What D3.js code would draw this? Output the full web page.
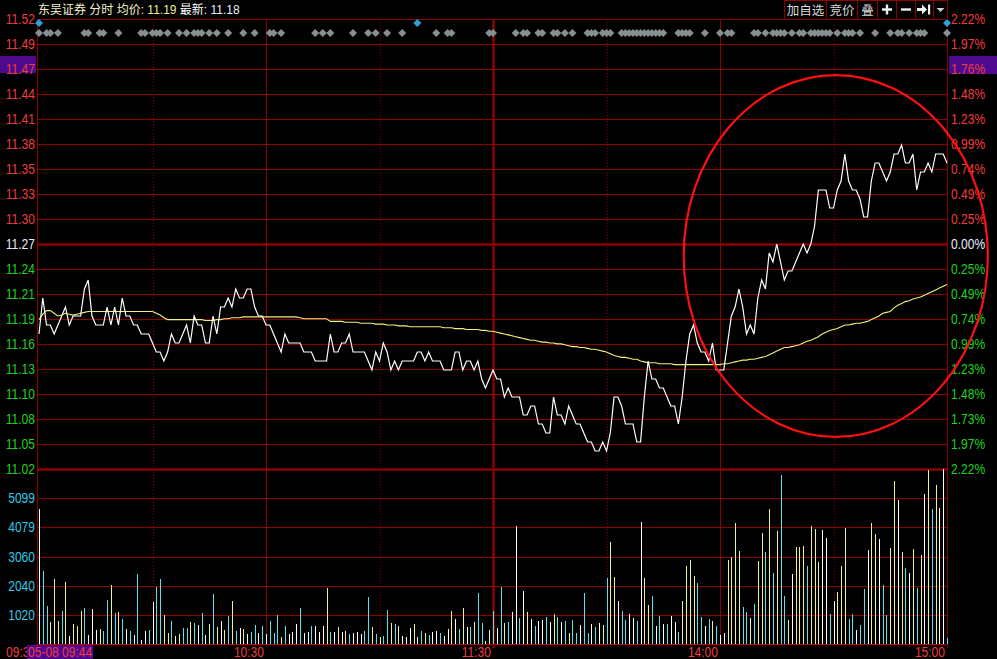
<!DOCTYPE html>
<html><head><meta charset="utf-8">
<script src="https://cdn.jsdelivr.net/npm/d3@7"></script>
<style>html,body{margin:0;padding:0;background:#000;overflow:hidden}</style>
</head><body><svg id="c" width="997" height="659"></svg>
<script>
// ---------------- DATA ----------------
const stockName = "东吴证券";
const headerAvg = "11.19";
const headerLast = "11.18";
const cursorLabel = "05-08 09:44";

const prices = [
11.17,11.21,11.18,11.18,11.17,11.18,11.19,11.20,11.18,11.19,
11.19,11.19,11.22,11.23,11.19,11.18,11.18,11.18,11.20,11.18,
11.20,11.18,11.21,11.19,11.19,11.18,11.18,11.17,11.17,11.17,
11.16,11.15,11.15,11.14,11.15,11.17,11.16,11.16,11.17,11.18,
11.16,11.19,11.18,11.18,11.16,11.16,11.19,11.17,11.20,11.20,
11.21,11.20,11.22,11.21,11.21,11.22,11.22,11.20,11.19,11.19,
11.18,11.18,11.17,11.16,11.15,11.17,11.16,11.16,11.16,11.16,
11.15,11.15,11.15,11.14,11.14,11.14,11.14,11.17,11.15,11.15,
11.16,11.16,11.17,11.15,11.15,11.15,11.15,11.14,11.13,11.15,
11.14,11.16,11.15,11.13,11.14,11.13,11.14,11.14,11.14,11.14,
11.15,11.15,11.14,11.15,11.14,11.14,11.14,11.13,11.13,11.13,
11.15,11.15,11.13,11.14,11.14,11.13,11.14,11.12,11.11,11.12,
11.13,11.12,11.12,11.10,11.11,11.10,11.10,11.10,11.08,11.08,
11.09,11.09,11.07,11.07,11.06,11.06,11.10,11.08,11.08,11.07,
11.09,11.08,11.07,11.07,11.06,11.05,11.05,11.04,11.04,11.05,
11.04,11.06,11.10,11.10,11.09,11.07,11.07,11.07,11.05,11.05,
11.10,11.14,11.12,11.12,11.11,11.11,11.10,11.09,11.09,11.07,
11.10,11.14,11.17,11.18,11.16,11.15,11.15,11.14,11.16,11.13,
11.13,11.13,11.16,11.19,11.20,11.22,11.20,11.17,11.18,11.17,
11.21,11.23,11.22,11.26,11.25,11.27,11.25,11.23,11.24,11.24,
11.25,11.26,11.27,11.26,11.27,11.29,11.33,11.33,11.33,11.31,
11.31,11.33,11.34,11.37,11.34,11.33,11.33,11.32,11.30,11.30,
11.34,11.36,11.36,11.35,11.34,11.35,11.37,11.37,11.38,11.36,
11.36,11.37,11.33,11.35,11.35,11.36,11.35,11.37,11.37,11.37,11.36];

const avgPrices = [
11.186,11.192,11.196,11.196,11.193,11.190,11.191,11.193,11.192,11.191,
11.192,11.193,11.194,11.195,11.195,11.195,11.195,11.195,11.195,11.195,
11.195,11.195,11.195,11.195,11.195,11.195,11.195,11.195,11.195,11.195,
11.195,11.193,11.191,11.188,11.186,11.186,11.186,11.186,11.186,11.186,
11.186,11.186,11.186,11.186,11.185,11.185,11.185,11.186,11.186,11.187,
11.187,11.188,11.188,11.188,11.189,11.189,11.189,11.189,11.189,11.189,
11.189,11.189,11.189,11.189,11.189,11.189,11.189,11.189,11.189,11.188,
11.187,11.187,11.187,11.187,11.187,11.187,11.187,11.184,11.184,11.184,
11.184,11.183,11.183,11.183,11.183,11.182,11.182,11.182,11.182,11.181,
11.181,11.181,11.180,11.180,11.180,11.179,11.179,11.179,11.178,11.178,
11.178,11.178,11.178,11.178,11.178,11.178,11.178,11.177,11.177,11.177,
11.176,11.176,11.176,11.175,11.175,11.175,11.175,11.174,11.174,11.173,
11.173,11.172,11.171,11.170,11.169,11.168,11.167,11.166,11.165,11.164,
11.163,11.163,11.162,11.161,11.161,11.160,11.160,11.159,11.159,11.158,
11.157,11.156,11.156,11.155,11.155,11.154,11.153,11.153,11.152,11.151,
11.150,11.148,11.146,11.145,11.144,11.144,11.143,11.142,11.142,11.140,
11.139,11.138,11.138,11.138,11.137,11.137,11.137,11.137,11.136,11.136,
11.136,11.136,11.136,11.136,11.136,11.136,11.136,11.136,11.136,11.136,
11.136,11.137,11.137,11.138,11.139,11.140,11.141,11.141,11.142,11.142,
11.143,11.144,11.145,11.147,11.149,11.151,11.153,11.155,11.155,11.156,
11.157,11.158,11.160,11.162,11.163,11.165,11.167,11.170,11.172,11.174,
11.175,11.176,11.178,11.180,11.180,11.181,11.182,11.182,11.183,11.184,
11.186,11.188,11.190,11.193,11.194,11.195,11.199,11.202,11.204,11.206,
11.207,11.209,11.210,11.211,11.213,11.215,11.217,11.219,11.221,11.223,11.225];

const volumes = [
4711,2567,1336,773,2285,809,1160,2180,281,703,633,1160,1266,316,1230,492,527,457,1547,2074,
1090,1125,879,527,457,316,2461,141,457,492,1477,2004,2285,1020,387,809,281,352,563,563,
773,738,668,1090,316,703,1758,598,809,492,984,1512,457,563,527,352,422,668,387,633,
352,809,387,1020,246,633,352,422,703,1266,387,422,633,633,422,633,1969,
422,422,598,422,457,352,387,422,352,457,1653,598,352,246,281,1195,738,703,633,281,
246,563,703,246,457,387,316,422,457,387,281,527,1160,879,527,1266,598,598,773,1793,738,105,492,
1160,563,2004,738,773,1125,4114,914,1863,1125,879,633,809,844,949,773,1055,949,773,809,
387,844,387,668,1793,387,703,598,738,668,2321,3551,2356,1512,1160,844,1055,914,809,4254,
2321,1371,1688,633,
984,703,703,984,773,422,1512,2742,2953,2391,2145,949,633,879,809,633,316,387,2953,3059,
4219,3235,1301,1125,914,1406,2918,3868,3200,4711,2496,3938,5907,1688,844,2461,3375,3375,3411,2742,
4114,4008,2883,3973,3692,1055,1512,1828,2742,4043,879,1055,492,668,1934,3270,4219,3832,3657,2074,
1020,3340,5696,5028,3200,2672,2496,3305,1969,3129,5239,6083,4711,5555,4746,6118,211];

// bar tone per minute: W = white, C = cyan, Y = yellow
const volTone = (
 "WCCYYYCYWY"+"YYCWWWYCCY"+"CYCWCWCWWC"+"WCCYYCWYCC"+"YCWCWYCYWY"+"CYCWYWCCWC"+"WCCCYCWWWC"+"WWCWWWY"+
 "CWYWYCWWWC"+"CYCYCCYCYW"+"WWYWCYCWWC"+"WWYWCYWCYC"+"CWY"+
 "CWCYCWWCWY"+"WCWWCWYCWC"+"YCCWCCWCWY"+"CYYWCCWWCW"+"YYCW"+
 "CWCWWCYYYY"+"CCWCYCWWYY"+"YYCCYCYYCY"+"CYCCYWYYYC"+"YYYWWCWYYY"+"CCWCCWYYWC"+"CYYWYCWYCY"+"WYCYWWC"
).split("");

const priceTicks = [11.5200,11.4922,11.4644,11.4367,11.4089,11.3811,11.3533,11.3256,11.2978,11.2700,
  11.2422,11.2144,11.1867,11.1589,11.1311,11.1033,11.0756,11.0478,11.0200];
const priceLabels = ["11.52","11.49","11.47","11.44","11.41","11.38","11.35","11.33","11.30","11.27",
  "11.24","11.21","11.19","11.16","11.13","11.10","11.08","11.05","11.02"];
const pctLabels = ["2.22%","1.97%","1.76%","1.48%","1.23%","0.99%","0.74%","0.49%","0.25%","0.00%",
  "0.25%","0.49%","0.74%","0.99%","1.23%","1.48%","1.73%","1.97%","2.22%"];
const prevClose = 11.27;
const cursorRow = 2;

const volTicks = [1020,2040,3060,4079,5099];
const volLabels = ["1020","2040","3060","4079","5099"];

const gridMinutes = [30,60,90,120,150,180,210];
const timeTickMinutes = [0,60,120,180,240];
const timeLabels = ["09:30","10:30","11:30","14:00","15:00"];

const grayMarks = [0,2,3,5,12,13,16,17,21,27,28,30,31,32,34,37,39,41,42,43,45,47,50,54,57,61,62,64,73,75,77,
 83,87,89,92,96,105,108,109,119,120,126,128,129,132,133,136,137,139,141,145,146,147,149,150,151,
 154,155,156,157,158,159,160,161,162,163,164,165,
 169,170,171,172,176,180,182,183,189,190,192,194,195,196,197,199,201,202,204,205,206,207,208,209,
 211,213,214,215,217,221,225,227,228,230,232,233,234,240];
const blueMarks = [0,100,240];

const buttons = ["加自选","竞价","叠"];
// annotation ellipse in data units: centre minute, centre price, half-width (minutes), half-height (price)
const circleNote = [210.6, 11.2567, 40.2, 0.201];

// ---------------- DRAW ----------------
const W = 997, H = 659;
const L = 37, R = 948, T = 19, PB = 469, VB = 644;
const GRID = "#8c0000";
const RED = "#f03c3c", GREEN = "#1ed21e", CYAN = "#33c8e6", WHITE = "#e8ecff";
const toneColor = {W:"#ffffff", C:"#50e6f0", Y:"#f2f28c"};
const NUMFONT = "'Liberation Sans', Arial, sans-serif";
const CJKFONT = "'Liberation Sans','Noto Sans CJK SC', sans-serif";

const x = d3.scaleLinear().domain([0, 240]).range([39, 947]);
const y = d3.scaleLinear().domain([11.02, 11.52]).range([PB, T]);
const yv = d3.scaleLinear().domain([0, 6120]).range([VB, PB]);

const svg = d3.select("#c");
svg.append("rect").attr("width", W).attr("height", H).attr("fill", "#000");

const crisp = v => Math.round(v) + 0.5;

// horizontal price grid
svg.append("g").selectAll("line").data(priceTicks).join("line")
  .attr("x1", L).attr("x2", R)
  .attr("y1", d => crisp(y(d))).attr("y2", d => crisp(y(d)))
  .attr("stroke", GRID)
  .attr("stroke-width", (d, i) => (i === 9 || i === 18) ? 2.5 : 1);

// volume grid
svg.append("g").selectAll("line").data(volTicks).join("line")
  .attr("x1", L).attr("x2", R)
  .attr("y1", d => crisp(yv(d))).attr("y2", d => crisp(yv(d)))
  .attr("stroke", GRID).attr("stroke-width", 1);
svg.append("line").attr("x1", L).attr("x2", R).attr("y1", VB + 0.5).attr("y2", VB + 0.5)
  .attr("stroke", "#c80000").attr("stroke-width", 1.2);

// vertical time grid
svg.append("g").selectAll("line").data(gridMinutes).join("line")
  .attr("x1", d => crisp(x(d))).attr("x2", d => crisp(x(d)))
  .attr("y1", T).attr("y2", d => d === 120 ? 648 : VB)
  .attr("stroke", GRID)
  .attr("stroke-width", d => d === 120 ? 2.5 : 1)
  .attr("stroke-dasharray", d => (d === 120 || d % 60 === 0) ? null : "1,2");

// frame
svg.append("line").attr("x1", L + 0.5).attr("x2", L + 0.5).attr("y1", T).attr("y2", 646).attr("stroke", GRID);
svg.append("line").attr("x1", R - 0.5).attr("x2", R - 0.5).attr("y1", 0).attr("y2", 648).attr("stroke", GRID);
svg.append("line").attr("x1", L).attr("x2", R).attr("y1", T + 0.5).attr("y2", T + 0.5).attr("stroke", GRID);

// volume bars
svg.append("g").selectAll("line").data(volumes).join("line")
  .attr("x1", (d, i) => crisp(x(i))).attr("x2", (d, i) => crisp(x(i)))
  .attr("y1", d => yv(d)).attr("y2", VB)
  .attr("stroke", (d, i) => toneColor[volTone[i]] || "#fff")
  .attr("stroke-width", 1).attr("shape-rendering", "crispEdges");

// average line
svg.append("path").datum(avgPrices)
  .attr("d", d3.line().x((d, i) => x(i)).y(d => y(d)))
  .attr("fill", "none").attr("stroke", "#f0f07a").attr("stroke-width", 1.1);

// price line
svg.append("path").datum(prices)
  .attr("d", d3.line().x((d, i) => x(i)).y(d => y(d)))
  .attr("fill", "none").attr("stroke", "#ffffff").attr("stroke-width", 1.2);

// markers
const diamond = "M0,-4L4,0L0,4L-4,0Z";
svg.append("g").selectAll("path").data(grayMarks).join("path")
  .attr("d", diamond).attr("transform", d => `translate(${x(d)},33)`).attr("fill", "#869090");
svg.append("g").selectAll("path").data(blueMarks).join("path")
  .attr("d", diamond).attr("transform", d => `translate(${x(d)},23)`).attr("fill", "#2f9fdc");

// axis labels (narrow numeric font)
function numText(g, tx, ty, str, fill, anchor) {
  return g.append("text").attr("transform", `translate(${tx},${ty}) scale(0.86,1)`)
    .attr("text-anchor", anchor).attr("font-family", NUMFONT).attr("font-size", 14)
    .attr("fill", fill).text(str);
}
const axisG = svg.append("g");
// cursor highlight boxes
axisG.append("rect").attr("x", 0).attr("y", y(priceTicks[cursorRow]) - 13).attr("width", L - 1).attr("height", 17).attr("fill", "#4e0a8e");
axisG.append("rect").attr("x", R + 1).attr("y", y(priceTicks[cursorRow]) - 13).attr("width", W - R - 1).attr("height", 18).attr("fill", "#4e0a8e");

priceTicks.forEach((p, i) => {
  const c = p > prevClose + 1e-6 ? RED : (Math.abs(p - prevClose) < 1e-6 ? WHITE : GREEN);
  numText(axisG, 35, y(p) + 5, priceLabels[i], c, "end");
  numText(axisG, 951, y(p) + 5, pctLabels[i], c, "start");
});
volTicks.forEach((v, i) => numText(axisG, 35, yv(v) + 5, volLabels[i], CYAN, "end"));

// time labels
timeTickMinutes.forEach((m, i) => {
  if (i === 0) numText(axisG, 6, 657, timeLabels[i], RED, "start");
  else numText(axisG, x(m) - 2, 657, timeLabels[i], RED, "end");
});
axisG.append("rect").attr("x", 27).attr("y", 645).attr("width", 66).attr("height", 14).attr("fill", "#4e0a8e");
numText(axisG, 28, 657, cursorLabel, RED, "start");

// header
const hdr = svg.append("text").attr("x", 38).attr("y", 14)
  .attr("font-family", CJKFONT).attr("font-size", 12);
hdr.append("tspan").attr("fill", "#f2f2c8").text(stockName + " 分时 均价: ");
hdr.append("tspan").attr("fill", "#eef08a").text(headerAvg);
hdr.append("tspan").attr("fill", "#ffffff").text(" 最新: ");
hdr.append("tspan").attr("fill", "#e4f0ff").text(headerLast);

// toolbar buttons
const tb = svg.append("g");
const cells = [784, 826, 857, 877, 896, 915, 933, 948];
tb.append("rect").attr("x", 784.5).attr("y", 0.5).attr("width", 163).attr("height", 19)
  .attr("fill", "none").attr("stroke", GRID);
cells.slice(1, -1).forEach(cx => tb.append("line").attr("x1", cx + 0.5).attr("x2", cx + 0.5)
  .attr("y1", 0).attr("y2", 19).attr("stroke", GRID));
buttons.forEach((b, i) => tb.append("text").attr("x", (cells[i] + cells[i + 1]) / 2 + 0.5).attr("y", 14.5)
  .attr("text-anchor", "middle").attr("font-family", CJKFONT).attr("font-size", 12.5)
  .attr("fill", "#d8d8d8").text(b));
// plus / minus
const pc = (cells[3] + cells[4]) / 2 + 0.5;
tb.append("path").attr("d", `M${pc-5},9.5H${pc+5}M${pc},4.5V14.5`).attr("stroke", "#f0f0f0").attr("stroke-width", 2.4);
const mc = (cells[4] + cells[5]) / 2 + 0.5;
tb.append("path").attr("d", `M${mc-5},9.5H${mc+5}`).attr("stroke", "#f0f0f0").attr("stroke-width", 2.4);
// jump-to-end icon
const jc = (cells[5] + cells[6]) / 2;
tb.append("path").attr("d", `M${jc-7},8H${jc-2}V4.5L${jc+3},9.5L${jc-2},14.5V11H${jc-7}Z`).attr("fill", "#f0f0f0");
tb.append("rect").attr("x", jc + 4).attr("y", 4.5).attr("width", 2.2).attr("height", 10).attr("fill", "#f0f0f0");
// dropdown
const dc = (cells[6] + cells[7]) / 2;
tb.append("path").attr("d", `M${dc-4},8H${dc+4}L${dc},12Z`).attr("fill", "#d0d0d0");

// annotation ellipse
svg.append("ellipse")
  .attr("cx", x(circleNote[0])).attr("cy", y(circleNote[1]))
  .attr("rx", x(circleNote[0] + circleNote[2]) - x(circleNote[0]))
  .attr("ry", y(circleNote[1] - circleNote[3]) - y(circleNote[1]))
  .attr("fill", "none").attr("stroke", "#ff1010").attr("stroke-width", 2.2);
</script>
</body></html>
